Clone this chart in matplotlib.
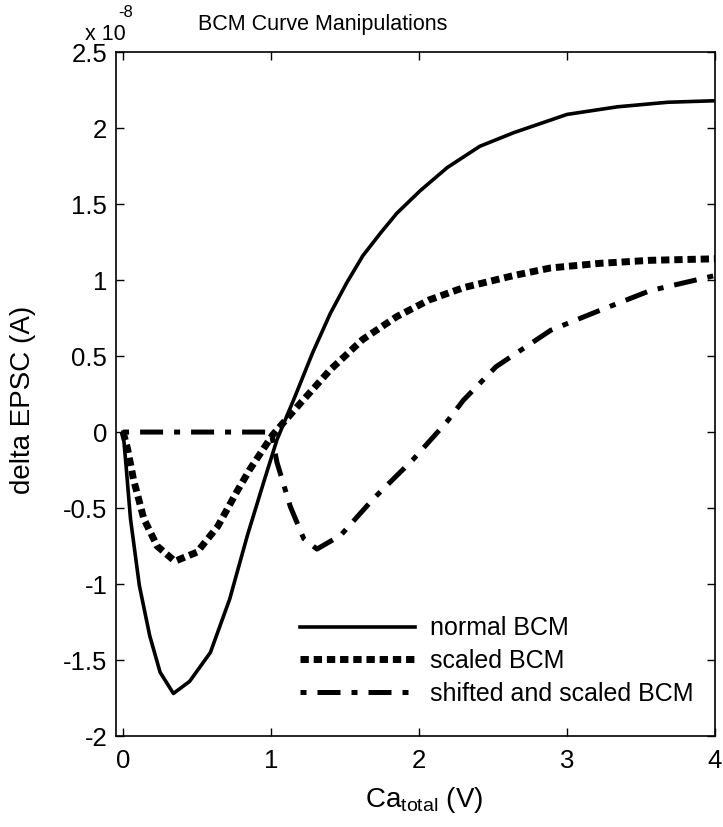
import numpy as np
import matplotlib.pyplot as plt
from matplotlib.ticker import FuncFormatter

plt.rcParams['font.family'] = ['Liberation Sans', 'DejaVu Sans']

# values in units of 1e-8 A
normal_x = [0, 0.02, 0.05, 0.11, 0.18, 0.25, 0.34, 0.45, 0.59, 0.72, 0.84, 0.95,
            1.04, 1.16, 1.28, 1.40, 1.51, 1.62, 1.74, 1.85, 2.01, 2.19, 2.41,
            2.64, 3.0, 3.34, 3.68, 4.0]
normal_y = [0, -0.22, -0.57, -1.01, -1.34, -1.58, -1.72, -1.64, -1.45, -1.10,
            -0.68, -0.33, -0.05, 0.23, 0.52, 0.78, 0.98, 1.16, 1.31, 1.44, 1.59,
            1.74, 1.88, 1.97, 2.09, 2.14, 2.17, 2.18]

scaled_x = [0, 0.03, 0.07, 0.14, 0.23, 0.35, 0.50, 0.64, 0.77, 0.86, 1.01, 1.18,
            1.40, 1.62, 1.85, 2.07, 2.30, 2.64, 2.89, 3.22, 3.56, 4.0]
scaled_y = [0, -0.11, -0.31, -0.57, -0.75, -0.85, -0.79, -0.62, -0.39, -0.24,
            -0.02, 0.17, 0.41, 0.61, 0.76, 0.87, 0.95, 1.03, 1.08, 1.11, 1.13, 1.14]

shifted_x = [0, 0.5, 1.0, 1.04, 1.13, 1.22, 1.31, 1.47, 1.69, 1.96, 2.19, 2.30,
             2.52, 2.89, 3.22, 3.56, 4.0]
shifted_y = [0, 0, 0, -0.2, -0.49, -0.70, -0.77, -0.68, -0.44, -0.18, 0.07, 0.21,
             0.43, 0.67, 0.80, 0.93, 1.03]

labels = ["normal BCM", "scaled BCM", "shifted and scaled BCM"]
y_ticks = [-2, -1.5, -1, -0.5, 0, 0.5, 1, 1.5, 2, 2.5]
x_ticks = [0, 1, 2, 3, 4]

fig = plt.figure(figsize=(7.23, 8.27), dpi=100)
ax = fig.add_axes([0.160, 0.110, 0.829, 0.827])

ax.plot(normal_x, normal_y, '-', color='k', lw=2.6, label=labels[0])
ax.plot(scaled_x, scaled_y, color='k', lw=5, dashes=(1.2, 0.7), label=labels[1])
ax.plot(shifted_x, shifted_y, color='k', lw=3.6, dashes=(1.2, 2.2, 4.6, 2.2),
        label=labels[2])

ax.set_xlim(-0.05, 4)
ax.set_ylim(-2, 2.5)
ax.set_xticks(x_ticks)
ax.set_yticks(y_ticks)
ax.yaxis.set_major_formatter(FuncFormatter(lambda v, p: f"{v:g}"))
ax.tick_params(direction='in', top=True, right=True, length=6, width=1,
               labelsize=18.5, pad=6)
ax.tick_params(axis='x', pad=9)
for s in ax.spines.values():
    s.set_linewidth(1.2)

ax.set_xlabel(r"Ca$_{\mathregular{total}}$ (V)", fontsize=20)
ax.xaxis.set_label_coords(0.514, -0.072)
ax.set_ylabel("delta EPSC (A)", fontsize=20)
ax.yaxis.set_label_coords(-0.133, 0.491)

ax.text(0.345, 1.032, "BCM Curve Manipulations", transform=ax.transAxes,
        ha='center', va='baseline', fontsize=15.5)
ax.text(-0.052, 1.0175, "x 10", transform=ax.transAxes,
        ha='left', va='baseline', fontsize=15.5)
ax.text(0.004, 1.052, "-8", transform=ax.transAxes,
        ha='left', va='baseline', fontsize=12)

ax.legend(loc='upper left', bbox_to_anchor=(0.307, 0.175), frameon=False,
          fontsize=18, handlelength=4.6, handletextpad=0.6, labelspacing=0.35,
          borderaxespad=0, borderpad=0)

fig.savefig("out.png", dpi=100)
